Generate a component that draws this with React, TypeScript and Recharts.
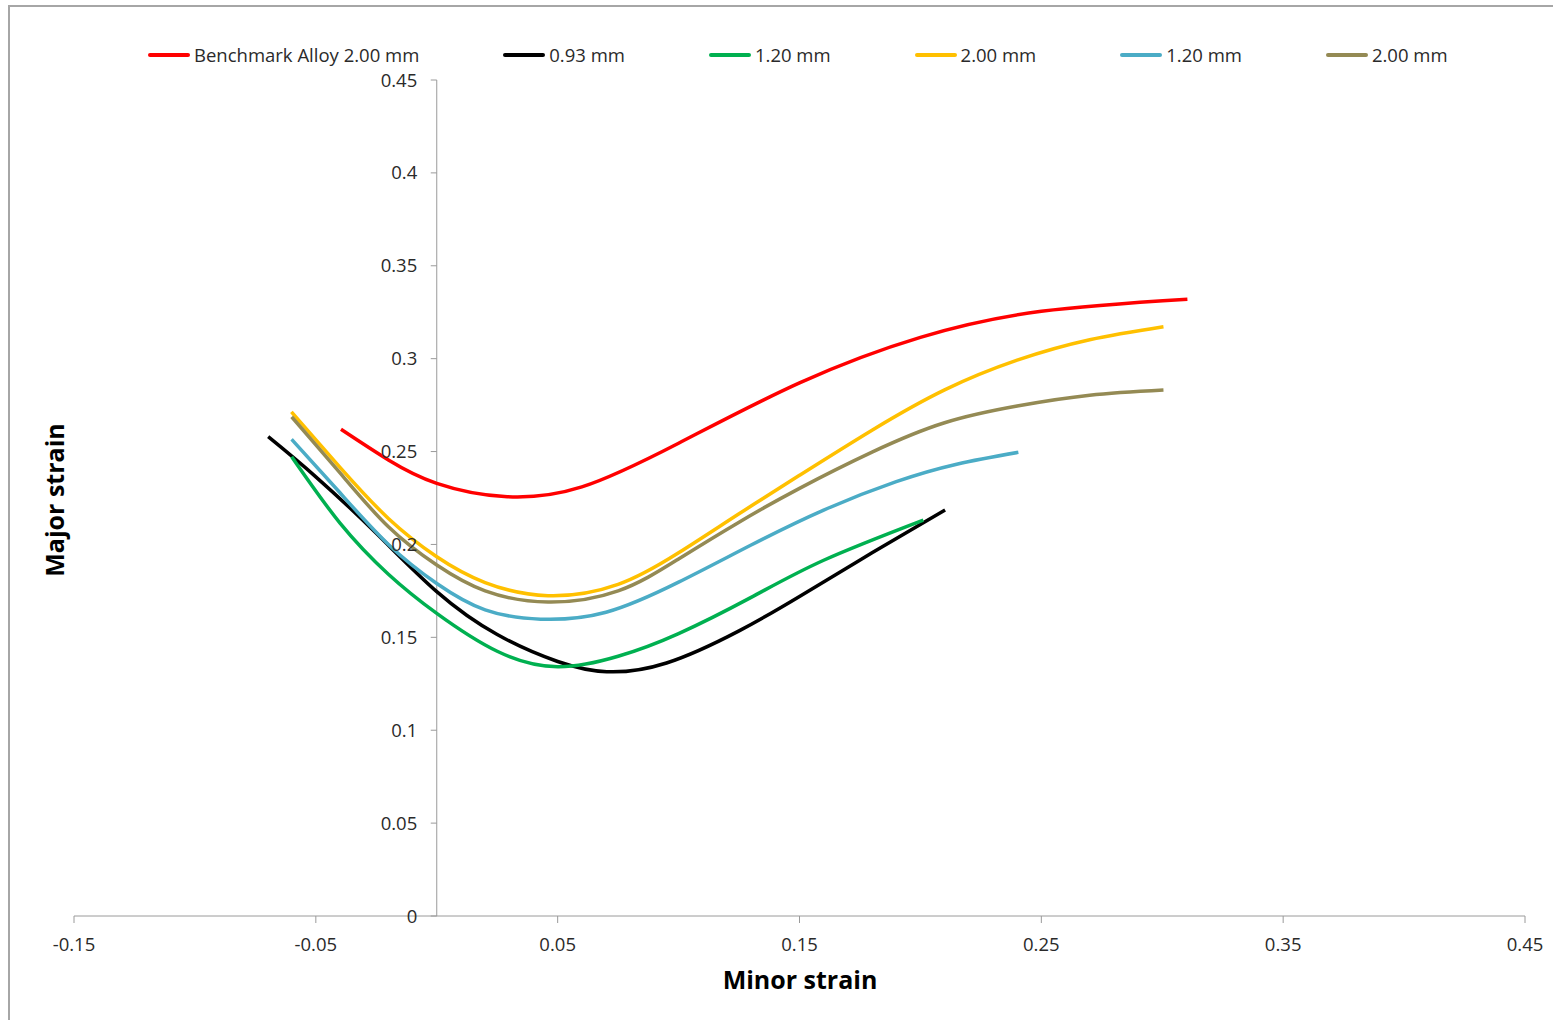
import { LineChart, Line, XAxis, YAxis, ReferenceLine } from "recharts"

const FONT = "'Open Sans', sans-serif"
const AXIS = "#9a9a9a"
const TEXT = "#2a2a2a"

// chart geometry
const W = 1545
const H = 1015
const MARGIN = { top: 75, right: 28, bottom: 19, left: 0 }
const Y_AXIS_W = 66
const X_AXIS_H = 85
const PLOT_LEFT = MARGIN.left + Y_AXIS_W
const PLOT_W = W - PLOT_LEFT - MARGIN.right

const xDomain: [number, number] = [-0.15, 0.45]
const yDomain: [number, number] = [0, 0.45]
const xTicks = [-0.15, -0.05, 0.05, 0.15, 0.25, 0.35, 0.45]
const yTicks = [0, 0.05, 0.1, 0.15, 0.2, 0.25, 0.3, 0.35, 0.4, 0.45]

// where minor strain = 0 sits (the y axis crosses there)
const Y_AXIS_X = PLOT_LEFT + ((0 - xDomain[0]) / (xDomain[1] - xDomain[0])) * PLOT_W

// [minor strain, major strain]
const benchmark200 = [
  [-0.0396, 0.262], [-0.02, 0.2455], [0, 0.2329], [0.028, 0.2258], [0.06, 0.231],
  [0.1, 0.2545], [0.15, 0.287], [0.2, 0.3115], [0.25, 0.3255], [0.3104, 0.332],
]
const alloy093 = [
  [-0.0697, 0.258], [-0.05, 0.2364], [-0.025, 0.206], [0, 0.1746], [0.025, 0.1515],
  [0.05, 0.137], [0.0703, 0.1315], [0.095, 0.1362], [0.125, 0.1535], [0.15, 0.172],
  [0.18, 0.1955], [0.2102, 0.2185],
]
const alloy120a = [
  [-0.06, 0.2472], [-0.04, 0.2115], [-0.02, 0.184], [0, 0.1629], [0.025, 0.1425],
  [0.05, 0.1342], [0.075, 0.1398], [0.1, 0.152], [0.13, 0.1715], [0.16, 0.1915],
  [0.2012, 0.2131],
]
const alloy200a = [
  [-0.0601, 0.2714], [-0.04, 0.2415], [-0.02, 0.214], [0, 0.1934], [0.02, 0.1795],
  [0.046, 0.1724], [0.075, 0.1785], [0.1, 0.1955], [0.125, 0.2165], [0.15, 0.2372],
  [0.18, 0.2615], [0.21, 0.2832], [0.24, 0.2992], [0.27, 0.3102], [0.3005, 0.3172],
]
const alloy120b = [
  [-0.06, 0.2566], [-0.04, 0.2278], [-0.02, 0.2], [0, 0.179], [0.02, 0.1648],
  [0.043, 0.1598], [0.07, 0.1635], [0.1, 0.1797], [0.13, 0.1997], [0.16, 0.2185],
  [0.19, 0.2338], [0.215, 0.2432], [0.2405, 0.2496],
]
const alloy200b = [
  [-0.06, 0.2687], [-0.04, 0.2385], [-0.02, 0.2095], [0, 0.1889], [0.02, 0.175],
  [0.046, 0.169], [0.075, 0.175], [0.1, 0.1922], [0.125, 0.212], [0.15, 0.2302],
  [0.18, 0.2497], [0.21, 0.2655], [0.24, 0.2745], [0.27, 0.2803], [0.3005, 0.2831],
]

const seriesNames = ["Benchmark Alloy 2.00 mm", "0.93 mm", "1.20 mm", "2.00 mm", "1.20 mm", "2.00 mm"]
const seriesColors = ["#FF0000", "#000000", "#00B050", "#FFC000", "#4BACC6", "#948A54"]
const seriesPoints = [benchmark200, alloy093, alloy120a, alloy200a, alloy120b, alloy200b]

const series = seriesNames.map((name, i) => ({
  name,
  color: seriesColors[i],
  data: seriesPoints[i].map(([x, y]) => ({ x, y })),
}))

function YTick({ y, payload }: any) {
  return (
    <g>
      <line x1={Y_AXIS_X - 6} x2={Y_AXIS_X} y1={y} y2={y} stroke={AXIS} />
      <text
        x={Y_AXIS_X - 19.5}
        y={y}
        dy="0.355em"
        textAnchor="end"
        fill={TEXT}
        fontSize={18.5}
        fontFamily={FONT}
      >
        {payload.value}
      </text>
    </g>
  )
}

function ChartLegend() {
  return (
    <div
      style={{
        position: "absolute",
        left: 140,
        top: 39,
        height: 22,
        display: "flex",
        alignItems: "center",
        gap: 84,
        fontFamily: FONT,
        fontSize: 18.5,
        color: TEXT,
        lineHeight: "22px",
        whiteSpace: "nowrap",
      }}
    >
      {series.map((s, i) => (
        <div key={i} style={{ display: "flex", alignItems: "center", gap: 4 }}>
          <span style={{ width: 42, height: 4, borderRadius: 2, background: s.color, display: "inline-block" }} />
          <span>{s.name}</span>
        </div>
      ))}
    </div>
  )
}

export default function App() {
  return (
    <div style={{ position: "absolute", left: 8, top: 5, width: W, height: H, background: "#fff" }}>
      <div style={{ position: "absolute", left: 0, top: 0, width: W, height: 2, background: "#a6a6a6" }} />
      <div style={{ position: "absolute", left: 0, top: 0, width: 2, height: H, background: "#a6a6a6" }} />
      <LineChart width={W} height={H} margin={MARGIN}>
        <XAxis
          type="number"
          dataKey="x"
          domain={xDomain}
          ticks={xTicks}
          interval={0}
          allowDataOverflow
          height={X_AXIS_H}
          stroke={AXIS}
          tickSize={7}
          tickMargin={15}
          tick={{ fill: TEXT, fontSize: 18.5, fontFamily: FONT }}
          label={{
            content: () => (
              <text x={792} y={984} textAnchor="middle" fontFamily={FONT} fontSize={25} fontWeight="bold" fill="#000">
                Minor strain
              </text>
            ),
          }}
        />
        <YAxis
          type="number"
          domain={yDomain}
          ticks={yTicks}
          interval={0}
          width={Y_AXIS_W}
          axisLine={false}
          tickLine={false}
          tick={(props: any) => <YTick {...props} />}
          label={{
            content: () => (
              <text
                x={56}
                y={495}
                transform="rotate(-90, 56, 495)"
                textAnchor="middle"
                fontFamily={FONT}
                fontSize={25}
                fontWeight="bold"
                fill="#000"
              >
                Major strain
              </text>
            ),
          }}
        />
        <ReferenceLine x={0} stroke={AXIS} strokeWidth={1} />
        {series.map((s, i) => (
          <Line
            key={i}
            data={s.data}
            dataKey="y"
            name={s.name}
            type="natural"
            stroke={s.color}
            strokeWidth={3.5}
            dot={false}
            activeDot={false}
            isAnimationActive={false}
          />
        ))}
      </LineChart>
      <ChartLegend />
    </div>
  )
}
